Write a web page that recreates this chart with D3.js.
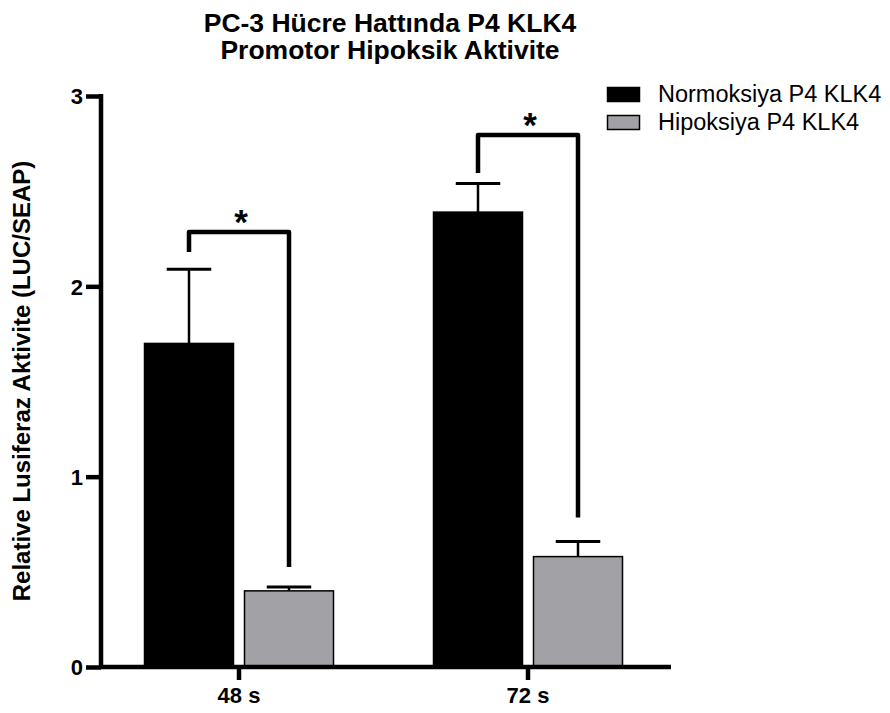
<!DOCTYPE html>
<html>
<head>
<meta charset="utf-8">
<script src="https://cdn.jsdelivr.net/npm/d3@7"></script>
<style>
  html, body { margin: 0; padding: 0; background: #fff; }
  text { font-family: "Liberation Sans", Arial, sans-serif; }
</style>
</head>
<body>
<svg id="chart" width="890" height="713"></svg>
<script>
// Time points and groups
const timepoints = ["48 s", "72 s"];
const groups = ["Normoksiya P4 KLK4", "Hipoksiya P4 KLK4"];
const groupColors = ["#000000", "#a2a1a6"];

// Mean relative luciferase activity per time point for each group
const normoksiyaMeans = [1.70, 2.39];
const hipoksiyaMeans  = [0.40, 0.58];
// Standard error (upper whisker only)
const normoksiyaErr = [0.39, 0.15];
const hipoksiyaErr  = [0.02, 0.08];

// Significance brackets: top level, left leg end, right leg end (data units)
const bracketTop   = [2.285, 2.795];
const bracketLeft  = [2.18, 2.595];
const bracketRight = [0.525, 0.785];
const bracketLabel = ["*", "*"];

const yTicks = [0, 1, 2, 3];

const svg = d3.select("#chart");
const x0 = 101, x1 = 671, yBottom = 667, yTop = 96;

const y = d3.scaleLinear().domain([0, 3]).range([yBottom, yTop]);
const xBand = d3.scaleBand().domain(timepoints).range([94.5, 672.5]).padding(0);
// Bar pair sits inside each band, centred on the band's tick
const xGroup = d3.scaleBand().domain(groups).range([50, 239]).paddingInner(0.11).paddingOuter(0);

const means = [normoksiyaMeans, hipoksiyaMeans];
const errs = [normoksiyaErr, hipoksiyaErr];

const barData = [];
timepoints.forEach((t, i) => {
  groups.forEach((g, j) => {
    barData.push({ t, g, j, v: means[j][i], e: errs[j][i] });
  });
});

const gBars = svg.append("g");
// Error bars (stem from bar top to whisker cap)
barData.forEach(d => {
  const cx = xBand(d.t) + xGroup(d.g) + xGroup.bandwidth() / 2;
  const capW = xGroup.bandwidth() / 2;
  gBars.append("line")
    .attr("x1", cx).attr("x2", cx)
    .attr("y1", y(d.v)).attr("y2", y(d.v + d.e))
    .attr("stroke", "#000").attr("stroke-width", 2.5);
  gBars.append("line")
    .attr("x1", cx - capW / 2).attr("x2", cx + capW / 2)
    .attr("y1", y(d.v + d.e)).attr("y2", y(d.v + d.e))
    .attr("stroke", "#000").attr("stroke-width", 3);
});
gBars.selectAll("rect.bar").data(barData).join("rect")
  .attr("class", "bar")
  .attr("x", d => xBand(d.t) + xGroup(d.g))
  .attr("width", xGroup.bandwidth())
  .attr("y", d => y(d.v))
  .attr("height", d => y(0) - y(d.v))
  .attr("fill", d => groupColors[d.j])
  .attr("stroke", "#000").attr("stroke-width", 1.5);

// Significance brackets
timepoints.forEach((t, i) => {
  const lx = xBand(t) + xGroup(groups[0]) + xGroup.bandwidth() / 2;
  const rx = xBand(t) + xGroup(groups[1]) + xGroup.bandwidth() / 2;
  svg.append("path")
    .attr("d", `M${lx},${y(bracketLeft[i])}V${y(bracketTop[i])}H${rx}V${y(bracketRight[i])}`)
    .attr("fill", "none").attr("stroke", "#000").attr("stroke-width", 4.5)
    .attr("stroke-linejoin", "round");
  svg.append("text")
    .attr("x", (lx + rx) / 2 + 2).attr("y", y(bracketTop[i]) + 2)
    .attr("text-anchor", "middle")
    .attr("font-size", 35).attr("font-weight", "bold")
    .text(bracketLabel[i]);
});

// Y axis
const yAxis = d3.axisLeft(y).tickValues(yTicks).tickFormat(d3.format("d")).tickSize(15).tickSizeOuter(0);
const gy = svg.append("g").attr("transform", `translate(${x0},0)`).call(yAxis);
gy.select(".domain").attr("stroke-width", 4.5).attr("d", `M0,${yBottom + 2}V${yTop - 2}`);
gy.selectAll(".tick line").attr("stroke-width", 4.5);
gy.selectAll(".tick text")
  .attr("font-size", 22).attr("font-weight", "bold").attr("fill", "#000")
  .attr("font-family", "Liberation Sans, Arial, sans-serif")
  .attr("x", -18).attr("dy", "0.36em");

// X axis
const gx = svg.append("g").attr("transform", `translate(0,${yBottom})`);
gx.append("line").attr("x1", x0 - 2).attr("x2", x1).attr("y1", 0).attr("y2", 0)
  .attr("stroke", "#000").attr("stroke-width", 4.5);
timepoints.forEach(t => {
  const cx = xBand(t) + xBand.bandwidth() / 2;
  gx.append("line").attr("x1", cx).attr("x2", cx).attr("y1", 0).attr("y2", 13)
    .attr("stroke", "#000").attr("stroke-width", 4.5);
  gx.append("text").attr("x", cx).attr("y", 36)
    .attr("text-anchor", "middle").attr("font-size", 22).attr("font-weight", "bold")
    .text(t);
});

// Y axis title
svg.append("text")
  .attr("transform", `translate(30,381) rotate(-90)`)
  .attr("text-anchor", "middle").attr("font-size", 24).attr("font-weight", "bold")
  .text("Relative Lusiferaz Aktivite (LUC/SEAP)");

// Title
const title = svg.append("text").attr("text-anchor", "middle").attr("font-size", 26.5).attr("font-weight", "bold");
title.append("tspan").attr("x", 390).attr("y", 32).text("PC-3 Hücre Hattında P4 KLK4");
title.append("tspan").attr("x", 390).attr("y", 59).text("Promotor Hipoksik Aktivite");

// Legend
const legend = svg.append("g");
groups.forEach((g, j) => {
  const ly = 87 + j * 28;
  legend.append("rect").attr("x", 607.5).attr("y", ly + 0.5).attr("width", 32).attr("height", 14)
    .attr("fill", groupColors[j]).attr("stroke", "#000").attr("stroke-width", 1.5);
  legend.append("text").attr("x", 658).attr("y", ly + 15).attr("font-size", 23.5).text(g);
});
</script>
</body>
</html>
